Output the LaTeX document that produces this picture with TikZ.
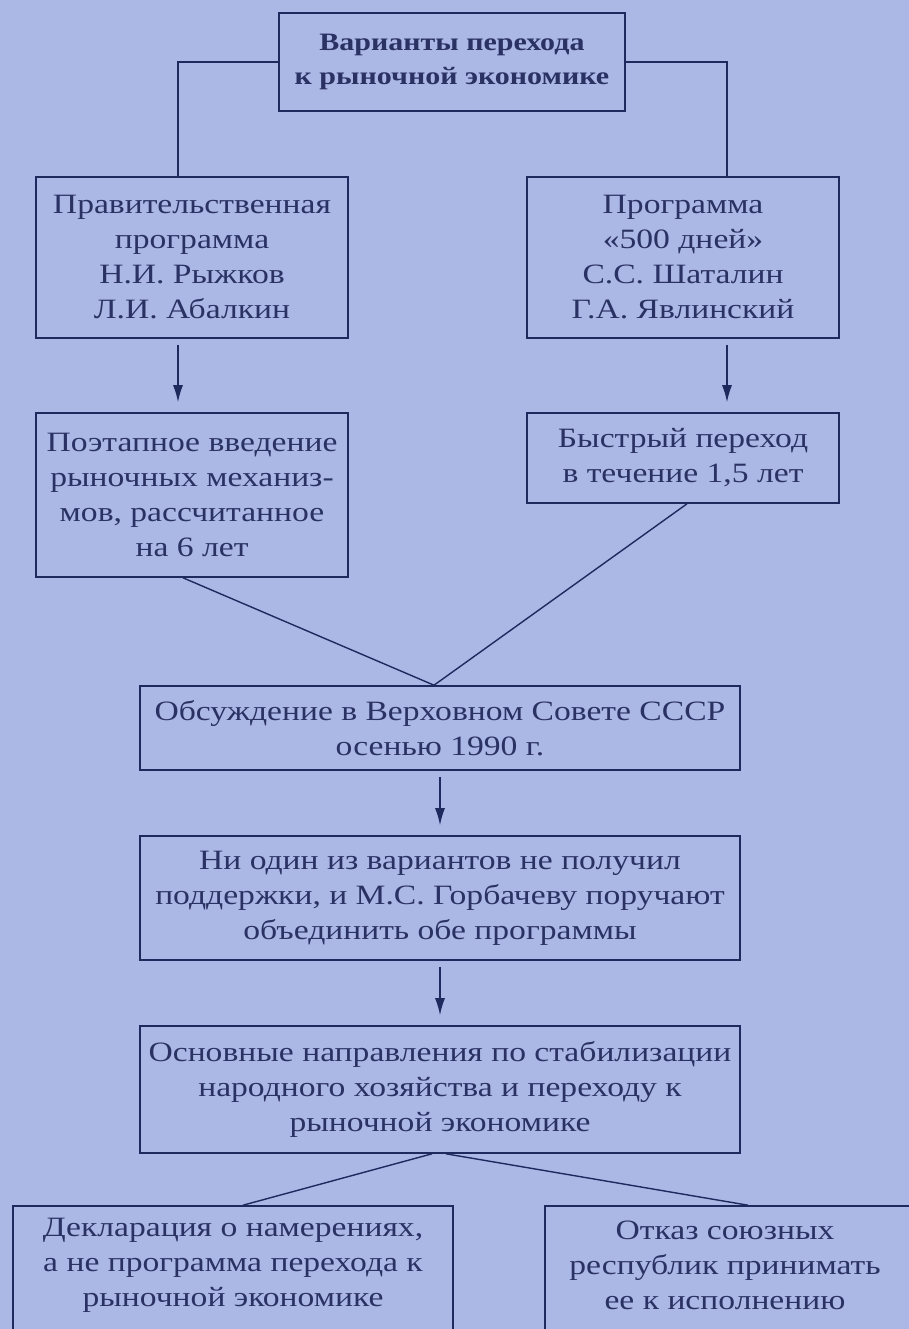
\documentclass[tikz,border=0pt]{standalone}
\usepackage{fontspec}
\setmainfont[FakeStretch=1.2]{Liberation Serif}
\usetikzlibrary{arrows.meta}
\definecolor{bgc}{HTML}{ABB7E5}
\definecolor{linec}{HTML}{1E2A5E}
\definecolor{txtc}{HTML}{2A3264}
\tikzset{
  box/.style={draw=linec, line width=1.6pt, rectangle, inner sep=0pt, align=center,
    text=txtc, font=\fontsize{28}{35}\selectfont},
  txt/.style={align=center, inner sep=0pt, text=txtc, font=\fontsize{28}{35}\selectfont},
  conn/.style={draw=linec, line width=1.4pt},
  arr/.style={conn, -{Latex[length=17pt,width=10pt]}},
}
\begin{document}
\begin{tikzpicture}[x=1pt,y=-1pt]
\fill[bgc] (0,0) rectangle (909,1329);
\useasboundingbox (0,0) rectangle (909,1329);
\node[box, minimum width=346, minimum height=98, font=\bfseries\fontsize{25}{34}\selectfont] (top) at (452,62) {Варианты перехода\\к рыночной экономике};
\node[box, minimum width=312, minimum height=161] (l1) at (192,257.5) {Правительственная\\программа\\Н.И. Рыжков\\Л.И. Абалкин};
\node[box, minimum width=312, minimum height=161] (r1) at (683,257.5) {Программа\\«500 дней»\\С.С. Шаталин\\Г.А. Явлинский};
\node[box, minimum width=312, minimum height=164] (l2) at (192,495) {Поэтапное введение\\рыночных механиз-\\мов, рассчитанное\\на 6 лет};
\node[box, minimum width=312, minimum height=90] (r2) at (683,458) {Быстрый переход\\в течение 1,5 лет};
\node[box, minimum width=600, minimum height=84] (b3) at (440,728) {Обсуждение в Верховном Совете СССР\\осенью 1990 г.};
\node[box, minimum width=600, minimum height=124] (b4) at (440,898) {Ни один из вариантов не получил\\поддержки, и М.С. Горбачеву поручают\\объединить обе программы};
\node[box, minimum width=600, minimum height=127] (b5) at (440,1089.5) {Основные направления по стабилизации\\народного хозяйства и переходу к\\рыночной экономике};
\node[box, minimum width=440, minimum height=144] (bl) at (233,1278) {};
\node[txt] (blt) at (233,1265) {Декларация о намерениях,\\а не программа перехода к\\рыночной экономике};
\node[box, minimum width=370, minimum height=144] (br) at (730,1278) {};
\node[txt] (brt) at (725,1265) {Отказ союзных\\республик принимать\\ее к исполнению};
\draw[conn] (top.west) -| ([xshift=-14pt]l1.north);
\draw[conn] (top.east) -| ([xshift=44pt]r1.north);
\draw[arr] ([xshift=-14pt,yshift=-6pt]l1.south) -- ([xshift=-14pt,yshift=10pt]l2.north);
\draw[arr] ([xshift=44pt,yshift=-6pt]r1.south) -- ([xshift=44pt,yshift=10pt]r2.north);
\draw[conn] ([xshift=-9pt]l2.south) -- ([xshift=-6pt]b3.north);
\draw[conn] ([xshift=4pt]r2.south) -- ([xshift=-6pt]b3.north);
\draw[arr] ([yshift=-6pt]b3.south) -- ([yshift=10pt]b4.north);
\draw[arr] ([yshift=-6pt]b4.south) -- ([yshift=10pt]b5.north);
\draw[conn] ([xshift=-8pt]b5.south) -- ([xshift=10pt]bl.north);
\draw[conn] ([xshift=6pt]b5.south) -- ([xshift=18pt]br.north);
\end{tikzpicture}
\end{document}
